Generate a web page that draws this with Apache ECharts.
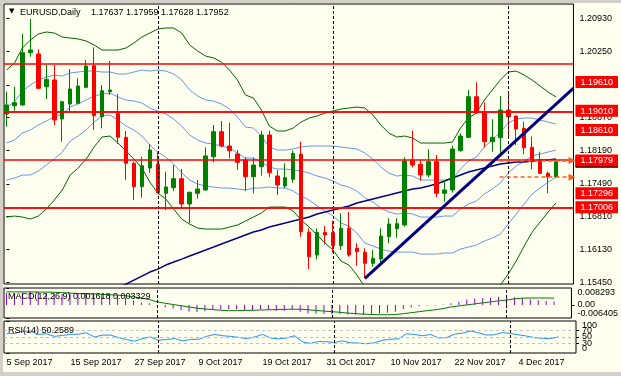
<!DOCTYPE html>
<html>
<head>
<meta charset="utf-8">
<title>EURUSD Daily</title>
<script src="https://cdn.jsdelivr.net/npm/echarts@6/dist/echarts.min.js"></script>
<style>
  html, body { margin: 0; padding: 0; background: #fffff0; }
  #chart { width: 621px; height: 376px; }
</style>
</head>
<body>
<div id="chart"></div>
<script>
// EURUSD daily bars, 5 Sep 2017 -> 11 Dec 2017 (bar index = position on time scale)
var dateLabels = ["5 Sep 2017", "15 Sep 2017", "27 Sep 2017", "9 Oct 2017", "19 Oct 2017",
  "31 Oct 2017", "10 Nov 2017", "22 Nov 2017", "4 Dec 2017"];
var dateLabelBars = [0, 8, 16, 24, 32, 40, 48, 56, 64];
var monthStartBars = [19, 41, 63]; // 2 Oct, 1 Nov, 1 Dec

// [open, close, low, high]
var candles = [
  [1.18945, 1.19132, 1.18681, 1.19408], [1.19117, 1.19180, 1.19013, 1.19512],
  [1.19132, 1.20219, 1.19120, 1.20608], [1.20219, 1.20275, 1.20136, 1.20920],
  [1.20192, 1.19479, 1.19464, 1.20290], [1.19512, 1.19666, 1.19257, 1.19963],
  [1.19652, 1.18820, 1.18716, 1.19963], [1.18841, 1.19200, 1.18369, 1.19215],
  [1.19153, 1.19464, 1.18993, 1.19880], [1.19167, 1.19527, 1.19153, 1.19687],
  [1.19500, 1.19943, 1.19479, 1.20067], [1.19949, 1.18909, 1.18612, 1.20331],
  [1.18889, 1.19429, 1.18647, 1.19548], [1.19408, 1.19444, 1.19340, 1.20047],
  [1.18959, 1.18460, 1.18321, 1.19361], [1.18460, 1.17920, 1.17573, 1.18591],
  [1.17920, 1.17433, 1.17157, 1.17953], [1.17433, 1.17870, 1.17205, 1.18057],
  [1.17822, 1.18196, 1.17724, 1.18321], [1.17905, 1.17309, 1.17296, 1.18161],
  [1.17296, 1.17427, 1.16949, 1.17745], [1.17412, 1.17600, 1.17344, 1.17884],
  [1.17600, 1.17074, 1.16984, 1.17801], [1.17074, 1.17317, 1.16672, 1.17330],
  [1.17296, 1.17385, 1.17184, 1.17573], [1.17365, 1.18072, 1.17355, 1.18252],
  [1.18057, 1.18577, 1.17941, 1.18716], [1.18577, 1.18279, 1.18252, 1.18799],
  [1.18279, 1.18182, 1.18024, 1.18764], [1.18113, 1.17941, 1.17780, 1.18196],
  [1.17988, 1.17641, 1.17344, 1.18045], [1.17641, 1.17884, 1.17296, 1.18036],
  [1.17849, 1.18508, 1.17662, 1.18591], [1.18508, 1.17724, 1.17629, 1.18598],
  [1.17656, 1.17469, 1.17261, 1.17780], [1.17448, 1.17620, 1.17400, 1.17920],
  [1.17587, 1.18128, 1.17516, 1.18182], [1.18107, 1.16498, 1.16394, 1.18369],
  [1.16485, 1.15978, 1.15722, 1.16568], [1.16013, 1.16485, 1.15924, 1.16568],
  [1.16485, 1.16429, 1.16236, 1.16616], [1.16477, 1.16207, 1.16061, 1.16726],
  [1.16207, 1.16568, 1.16117, 1.16880], [1.16568, 1.16013, 1.15978, 1.16907],
  [1.16153, 1.16082, 1.15791, 1.16257], [1.16070, 1.15841, 1.15529, 1.16153],
  [1.15841, 1.15945, 1.15770, 1.16117], [1.15930, 1.16408, 1.15841, 1.16568],
  [1.16394, 1.16658, 1.16257, 1.16776], [1.16560, 1.16664, 1.16373, 1.16776],
  [1.16637, 1.17968, 1.16602, 1.18045], [1.17988, 1.17884, 1.17837, 1.18598],
  [1.17899, 1.17677, 1.17558, 1.18003], [1.17677, 1.17953, 1.17629, 1.18211],
  [1.17953, 1.17296, 1.17213, 1.18092], [1.17296, 1.17365, 1.17121, 1.17573],
  [1.17365, 1.18217, 1.17309, 1.18286], [1.18182, 1.18487, 1.18161, 1.18543],
  [1.18460, 1.19304, 1.18450, 1.19444], [1.19304, 1.18972, 1.18945, 1.19604],
  [1.18972, 1.18369, 1.18252, 1.19188], [1.18369, 1.18460, 1.18161, 1.18835],
  [1.18452, 1.19028, 1.18107, 1.19319], [1.19028, 1.18889, 1.18440, 1.19408],
  [1.18903, 1.18633, 1.18300, 1.18910], [1.18647, 1.18244, 1.18107, 1.18785],
  [1.18252, 1.17953, 1.17795, 1.18473], [1.17953, 1.17712, 1.17697, 1.18161],
  [1.17712, 1.17641, 1.17296, 1.17745], [1.17637, 1.17952, 1.17628, 1.17959]
];

// bollinger bands, outer (green) and inner (blue), plus middle line
var bbUpper2 = [1.19859, 1.20005, 1.20317, 1.20483, 1.20608, 1.20650, 1.20629, 1.20546, 1.20525, 1.20504,
  1.20463, 1.20379, 1.20275, 1.20275, 1.20275, 1.20317, 1.20421, 1.20546, 1.20629, 1.20712,
  1.20733, 1.20733, 1.20629, 1.20379, 1.20255, 1.20151, 1.20109, 1.20026, 1.19859, 1.19652,
  1.19340, 1.19277, 1.19028, 1.18695, 1.18591, 1.18591, 1.18653, 1.18778, 1.18861, 1.18903,
  1.18965, 1.19007, 1.19048, 1.19069, 1.19090, 1.19069, 1.18924, 1.18716, 1.18549, 1.18466,
  1.18487, 1.18445, 1.18341, 1.18341, 1.18341, 1.18341, 1.18362, 1.18653, 1.18861, 1.18965,
  1.19236, 1.19444, 1.19652, 1.19818, 1.19838, 1.19755, 1.19652, 1.19527, 1.19402, 1.19298];
var bbUpper1 = [1.19090, 1.19194, 1.19423, 1.19548, 1.19652, 1.19714, 1.19755, 1.19734, 1.19797, 1.19818,
  1.19838, 1.19838, 1.19818, 1.19818, 1.19776, 1.19776, 1.19818, 1.19859, 1.19838, 1.19859,
  1.19838, 1.19776, 1.19652, 1.19444, 1.19319, 1.19236, 1.19215, 1.19153, 1.19048, 1.18882,
  1.18674, 1.18653, 1.18487, 1.18258, 1.18196, 1.18196, 1.18217, 1.18258, 1.18279, 1.18279,
  1.18279, 1.18279, 1.18258, 1.18237, 1.18217, 1.18133, 1.18008, 1.17842, 1.17717, 1.17655,
  1.17676, 1.17655, 1.17572, 1.17572, 1.17572, 1.17572, 1.17593, 1.17800, 1.17967, 1.18050,
  1.18258, 1.18404, 1.18570, 1.18757, 1.18840, 1.18861, 1.18861, 1.18820, 1.18778, 1.18736];
var bbMiddle = [1.18341, 1.18404, 1.18549, 1.18612, 1.18716, 1.18799, 1.18882, 1.18945, 1.19090, 1.19153,
  1.19236, 1.19319, 1.19360, 1.19381, 1.19298, 1.19236, 1.19215, 1.19173, 1.19069, 1.19007,
  1.18945, 1.18840, 1.18695, 1.18508, 1.18404, 1.18341, 1.18320, 1.18279, 1.18237, 1.18133,
  1.18029, 1.18029, 1.17946, 1.17842, 1.17800, 1.17800, 1.17780, 1.17759, 1.17717, 1.17655,
  1.17613, 1.17551, 1.17468, 1.17426, 1.17343, 1.17198, 1.17115, 1.16989, 1.16906, 1.16864,
  1.16885, 1.16864, 1.16802, 1.16802, 1.16802, 1.16823, 1.16823, 1.16968, 1.17073, 1.17135,
  1.17281, 1.17385, 1.17510, 1.17717, 1.17863, 1.17967, 1.18071, 1.18113, 1.18154, 1.18196];
var bbLower1 = [1.17572, 1.17613, 1.17676, 1.17676, 1.17759, 1.17884, 1.18008, 1.18154, 1.18383, 1.18487,
  1.18612, 1.18778, 1.18903, 1.18924, 1.18820, 1.18695, 1.18612, 1.18487, 1.18300, 1.18154,
  1.18050, 1.17904, 1.17717, 1.17572, 1.17489, 1.17447, 1.17426, 1.17406, 1.17406, 1.17385,
  1.17364, 1.17406, 1.17406, 1.17426, 1.17406, 1.17406, 1.17343, 1.17239, 1.17156, 1.17031,
  1.16927, 1.16823, 1.16677, 1.16615, 1.16469, 1.16261, 1.16199, 1.16137, 1.16095, 1.16074,
  1.16074, 1.16074, 1.16032, 1.16032, 1.16032, 1.16054, 1.16054, 1.16137, 1.16178, 1.16220,
  1.16303, 1.16365, 1.16448, 1.16656, 1.16864, 1.17073, 1.17281, 1.17406, 1.17530, 1.17634];
var bbLower2 = [1.16802, 1.16823, 1.16802, 1.16760, 1.16823, 1.16968, 1.17156, 1.17364, 1.17676, 1.17821,
  1.18008, 1.18258, 1.18466, 1.18487, 1.18341, 1.18175, 1.18008, 1.17821, 1.17530, 1.17302,
  1.17177, 1.16968, 1.16760, 1.16656, 1.16573, 1.16552, 1.16552, 1.16552, 1.16594, 1.16636,
  1.16719, 1.16802, 1.16885, 1.17010, 1.17010, 1.17010, 1.16927, 1.16739, 1.16594, 1.16428,
  1.16261, 1.16116, 1.15887, 1.15804, 1.15596, 1.15346, 1.15305, 1.15284, 1.15284, 1.15284,
  1.15284, 1.15284, 1.15284, 1.15284, 1.15284, 1.15305, 1.15305, 1.15305, 1.15305, 1.15326,
  1.15326, 1.15346, 1.15388, 1.15617, 1.15887, 1.16199, 1.16490, 1.16698, 1.16906, 1.17094];

// slow moving average (navy), enters the window at bar 14
var slowMa = [null, null, null, null, null, null, null, null, null, null,
  null, null, null, null, 1.15326, 1.15409, 1.15492, 1.15575, 1.15658, 1.15720,
  1.15804, 1.15866, 1.15928, 1.15991, 1.16054, 1.16116, 1.16178, 1.16241, 1.16303, 1.16365,
  1.16428, 1.16490, 1.16532, 1.16594, 1.16636, 1.16677, 1.16719, 1.16760, 1.16802, 1.16864,
  1.16906, 1.16948, 1.16989, 1.17031, 1.17094, 1.17135, 1.17177, 1.17219, 1.17260, 1.17302,
  1.17343, 1.17385, 1.17406, 1.17447, 1.17489, 1.17551, 1.17613, 1.17676, 1.17738, 1.17780,
  1.17821, 1.17863, 1.17904, 1.17925, 1.17946, 1.17946, 1.17967, 1.17988, 1.17988, 1.18008];

// hand drawn support trendline: [bar, price]
var trendLine = [[45, 1.15529], [71.2, 1.19485]];

// horizontal levels (red), bid price, dashed alert prices
var levelPrices = [1.19610, 1.19010, 1.18610, 1.17979, 1.17296, 1.17006];
var bidPrice = 1.17952;
var alertPrices = [1.17979, 1.17630];
var priceTicks = [1.15450, 1.16130, 1.16810, 1.17490, 1.18190, 1.18870, 1.19550, 1.20250, 1.20930];

// MACD(12,26,9): main (histogram) and signal
var macdMain = [0.0058, 0.0056, 0.0062, 0.0066, 0.0062, 0.0060, 0.0056, 0.0054, 0.0054, 0.0055,
  0.0058, 0.0052, 0.0050, 0.0050, 0.0045, 0.0035, 0.0022, 0.0012, 0.0008, -0.0004,
  -0.0012, -0.0018, -0.0026, -0.0032, -0.0035, -0.0030, -0.0024, -0.0022, -0.0021, -0.0023,
  -0.0027, -0.0027, -0.0022, -0.0024, -0.0028, -0.0028, -0.0024, -0.0034, -0.0042, -0.0043,
  -0.0044, -0.0046, -0.0045, -0.0047, -0.0047, -0.0049, -0.0047, -0.0043, -0.0038, -0.0033,
  -0.0020, -0.0012, -0.0007, -0.0003, -0.0003, 0.0002, 0.0008, 0.0014, 0.0026, 0.0031,
  0.0033, 0.0035, 0.0040, 0.0042, 0.0038, 0.0034, 0.0028, 0.0023, 0.0019, 0.001618];
var macdSignal = [0.0064, 0.0064, 0.0064, 0.0064, 0.0063, 0.0063, 0.0062, 0.0060, 0.0058, 0.0056,
  0.0055, 0.0054, 0.0052, 0.0050, 0.0048, 0.0045, 0.0040, 0.0034, 0.0026, 0.0015,
  0.0008, 0.0002, -0.0004, -0.0010, -0.0016, -0.0020, -0.0023, -0.0026, -0.0028, -0.0028,
  -0.0027, -0.0026, -0.0025, -0.0024, -0.0023, -0.0022, -0.0021, -0.0021, -0.0024, -0.0027,
  -0.0030, -0.0033, -0.0036, -0.0040, -0.0043, -0.0045, -0.0047, -0.0048, -0.0048, -0.0047,
  -0.0043, -0.0038, -0.0033, -0.0028, -0.0024, -0.0018, -0.0010, -0.0005, 0.0000, 0.0005,
  0.0010, 0.0015, 0.0020, 0.0024, 0.0030, 0.0033, 0.0034, 0.0034, 0.0034, 0.003329];
var macdRange = [-0.006405, 0.008293];

// RSI(14)
var rsi = [60, 61, 68, 68, 58, 60, 52, 55, 58, 59,
  63, 50, 56, 56, 48, 42, 37, 45, 50, 40,
  42, 45, 38, 42, 43, 52, 58, 54, 52, 49,
  45, 50, 58, 47, 44, 47, 54, 35, 30, 36,
  35, 33, 38, 32, 31, 29, 32, 40, 43, 44,
  60, 58, 54, 58, 47, 48, 59, 62, 69, 63,
  56, 57, 64, 61, 57, 53, 48, 46, 45, 50.2589];
var rsiLevels = [30, 50, 70];

function pairs(arr) {
  return arr.map(function (v, i) { return [i, v]; });
}

var font = "Liberation Sans";
// 8px per bar, bar centres on half pixels so bodies and wicks stay crisp
var xMin = -0.3125, xMax = 71.1875;

function xAxisFor(gridIndex, withLabels) {
  return {
    type: "value", gridIndex: gridIndex, min: xMin, max: xMax,
    axisLine: { show: false }, axisTick: { show: false }, splitLine: { show: false },
    axisLabel: withLabels ? {
      customValues: dateLabelBars,
      formatter: function (v) { return dateLabels[dateLabelBars.indexOf(v)] || ""; },
      align: "left", margin: 5, fontSize: 9, fontFamily: font, color: "#000",
      showMinLabel: true, showMaxLabel: true
    } : { show: false }
  };
}

// right hand scale; each axis only carries labels that do not collide,
// so MT4-style overlapping scale labels all stay visible
function scaleAxis(gridIndex, min, max, values, extraLabel) {
  var label = { customValues: values, margin: 6, fontSize: 9, fontFamily: font, color: "#000",
    showMinLabel: true, showMaxLabel: true };
  for (var k in extraLabel) label[k] = extraLabel[k];
  return {
    type: "value", gridIndex: gridIndex, position: "right", min: min, max: max,
    splitLine: { show: false }, axisLine: { show: false },
    axisTick: { show: true, customValues: values, length: 3, lineStyle: { color: "#000" } },
    axisLabel: label
  };
}

function bandLine(name, data, color, width) {
  return {
    name: name, type: "line", xAxisIndex: 0, yAxisIndex: 0, data: pairs(data),
    symbol: "none", silent: true, z: 2,
    lineStyle: { color: color, width: width || 1 }
  };
}

function separators() {
  return {
    silent: true, symbol: ["none", "none"], label: { show: false },
    lineStyle: { color: "#000", type: [3, 2], width: 1 },
    data: monthStartBars.map(function (b) { return { xAxis: b }; })
  };
}

var chart = echarts.init(document.getElementById("chart"));

var option = {
  animation: false,
  backgroundColor: "#fffff0",
  textStyle: { fontFamily: font },
  title: [
    { text: "\u25BC", left: 9, top: 8, padding: 0,
      textStyle: { fontSize: 7, fontWeight: "normal", color: "#000", fontFamily: "DejaVu Sans" } },
    { text: "EURUSD,Daily", left: 20, top: 8, padding: 0,
      textStyle: { fontSize: 9, fontWeight: "normal", color: "#000", fontFamily: font } },
    { text: "1.17637 1.17959 1.17628 1.17952", left: 91, top: 8, padding: 0,
      textStyle: { fontSize: 9, fontWeight: "normal", color: "#000", fontFamily: font } },
    { text: "MACD(12,26,9) 0.001618 0.003329", left: 8, top: 292, padding: 0,
      textStyle: { fontSize: 9, fontWeight: "normal", color: "#000", fontFamily: font } },
    { text: "RSI(14) 50.2589", left: 8, top: 326, padding: 0,
      textStyle: { fontSize: 9, fontWeight: "normal", color: "#000", fontFamily: font } }
  ],
  grid: [
    { left: 4, top: 4, width: 572, height: 280, show: true, borderColor: "#000", borderWidth: 1, backgroundColor: "#fffff0" },
    { left: 4, top: 288, width: 572, height: 30, show: true, borderColor: "#000", borderWidth: 1, backgroundColor: "#fffff0" },
    { left: 4, top: 321, width: 572, height: 32, show: true, borderColor: "#000", borderWidth: 1, backgroundColor: "#fffff0" }
  ],
  xAxis: [xAxisFor(0, false), xAxisFor(1, false), xAxisFor(2, true)],
  yAxis: [
    // 0: price scale
    scaleAxis(0, 1.15410, 1.21232, priceTicks, {
      formatter: function (v) { return v.toFixed(5); }
    }),
    // 1: level / bid price tags
    {
      type: "value", gridIndex: 0, position: "right", min: 1.15410, max: 1.21232,
      splitLine: { show: false }, axisLine: { show: false }, axisTick: { show: false },
      axisLabel: {
        customValues: [bidPrice].concat(levelPrices), margin: 2, fontSize: 9, fontFamily: font,
        showMinLabel: true, showMaxLabel: true,
        formatter: function (v) {
          return (v === bidPrice ? "{bid|" : "{lvl|") + v.toFixed(5) + "}";
        },
        rich: {
          lvl: { backgroundColor: "#ff0000", color: "#fff", fontSize: 9, fontFamily: font, padding: [2, 5, 1, 5] },
          bid: { backgroundColor: "#000", color: "#fff", fontSize: 9, fontFamily: font, padding: [2, 5, 1, 5] }
        }
      }
    },
    // 2: MACD, range labels
    scaleAxis(1, macdRange[0], macdRange[1], macdRange, {
      verticalAlignMinLabel: "bottom", verticalAlignMaxLabel: "top",
      formatter: function (v) { return v.toFixed(6); }
    }),
    // 3: MACD zero
    scaleAxis(1, macdRange[0], macdRange[1], [0], {
      formatter: function () { return "0.00"; }
    }),
    // 4: RSI 0 / 100
    scaleAxis(2, 0, 100, [0, 100], {
      verticalAlignMinLabel: "bottom", verticalAlignMaxLabel: "top"
    }),
    // 5: RSI 30 / 70
    scaleAxis(2, 0, 100, [30, 70], {}),
    // 6: RSI 50
    scaleAxis(2, 0, 100, [50], {})
  ],
  series: [
    bandLine("bbUpper2", bbUpper2, "#006400"),
    bandLine("bbLower2", bbLower2, "#006400"),
    bandLine("bbUpper1", bbUpper1, "#6495ed"),
    bandLine("bbMiddle", bbMiddle, "#6495ed"),
    bandLine("bbLower1", bbLower1, "#6495ed"),
    {
      name: "slowMa", type: "line", xAxisIndex: 0, yAxisIndex: 0, data: pairs(slowMa),
      symbol: "none", silent: true, z: 2, lineStyle: { color: "#00008b", width: 1.5 },
      markLine: separators()
    },
    {
      name: "EURUSD", type: "candlestick", xAxisIndex: 0, yAxisIndex: 0, z: 3, barWidth: 4,
      data: candles.map(function (c, i) { return [i, c[0], c[1], c[2], c[3]]; }),
      itemStyle: { color: "#008000", color0: "#ff0000", borderColor: "#008000", borderColor0: "#ff0000", borderWidth: 1 }
    },
    {
      name: "levels", type: "line", xAxisIndex: 0, yAxisIndex: 0, data: [], z: 4,
      markLine: {
        silent: true, symbol: ["none", "none"], label: { show: false },
        lineStyle: { color: "#ff0000", type: "solid", width: 1.5 },
        data: levelPrices.map(function (p) { return { yAxis: p }; })
      }
    },
    {
      name: "alerts", type: "line", xAxisIndex: 0, yAxisIndex: 0, data: [], z: 5,
      markLine: {
        silent: true, symbol: ["none", "triangle"], symbolSize: 7, label: { show: false },
        lineStyle: { color: "#ff5a1f", type: [4, 3], width: 1.5 },
        data: alertPrices.map(function (p) { return [{ coord: [61.9, p] }, { coord: [71, p] }]; })
      }
    },
    {
      name: "trend", type: "line", xAxisIndex: 0, yAxisIndex: 0, data: trendLine, z: 5,
      symbol: "none", silent: true, lineStyle: { color: "#000080", width: 3 }
    },
    {
      name: "MACD", type: "bar", xAxisIndex: 1, yAxisIndex: 2, data: pairs(macdMain),
      barWidth: 1, silent: true, itemStyle: { color: "#9400d3" },
      markLine: separators()
    },
    {
      name: "Signal", type: "line", xAxisIndex: 1, yAxisIndex: 2, data: pairs(macdSignal),
      symbol: "none", silent: true, lineStyle: { color: "#007a00", width: 1 }
    },
    {
      name: "RSI", type: "line", xAxisIndex: 2, yAxisIndex: 4, data: pairs(rsi),
      symbol: "none", silent: true, lineStyle: { color: "#1e90ff", width: 1 },
      markLine: {
        silent: true, symbol: ["none", "none"], label: { show: false },
        lineStyle: { color: "#c0c0c0", type: [3, 3], width: 1 },
        data: rsiLevels.map(function (v) { return { yAxis: v }; })
      }
    },
    {
      name: "rsiSeparators", type: "line", xAxisIndex: 2, yAxisIndex: 4, data: [],
      markLine: separators()
    }
  ],
  graphic: [
    { type: "rect", left: 0, top: 0, shape: { width: 621, height: 3 }, style: { fill: "#d4d0c8" }, silent: true },
    { type: "rect", left: 0, top: 0, shape: { width: 3, height: 376 }, style: { fill: "#d4d0c8" }, silent: true },
    { type: "rect", left: 0, top: 372, shape: { width: 621, height: 4 }, style: { fill: "#d4d0c8" }, silent: true }
  ]
};

chart.setOption(option);
</script>
</body>
</html>
